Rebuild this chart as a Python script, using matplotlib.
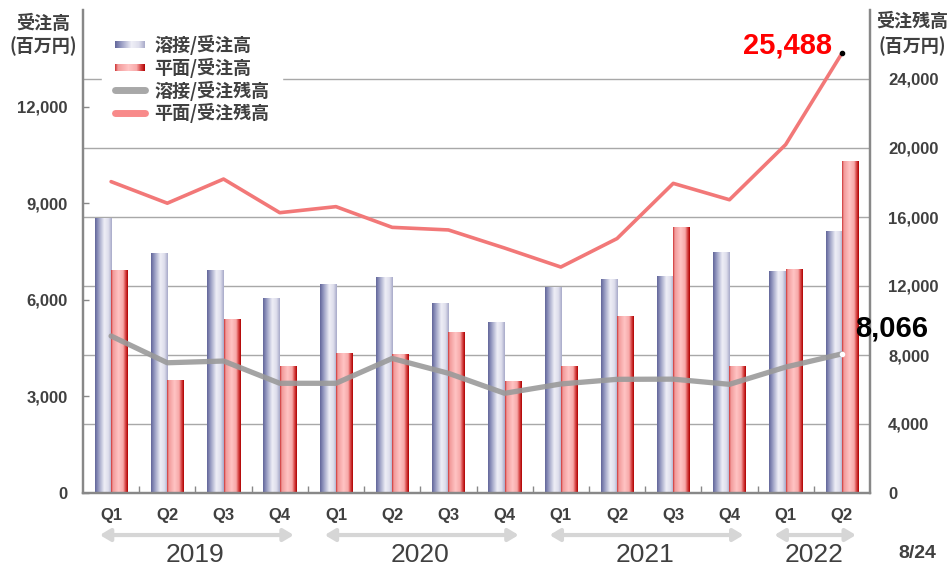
"""
Orders received / order backlog by quarter: welding vs flat (surface) business.
Bars on the left axis, backlog lines on the right axis.
"""

import matplotlib
matplotlib.use("Agg")
import numpy as np
import matplotlib.pyplot as plt
from matplotlib import font_manager
from matplotlib.colors import LinearSegmentedColormap
from matplotlib.legend_handler import HandlerBase
from matplotlib.lines import Line2D
from matplotlib.patches import Patch, Rectangle

# ---- data (百万円) ----
quarters = ["Q1", "Q2", "Q3", "Q4"] * 3 + ["Q1", "Q2"]
years = ["2019", "2020", "2021", "2022"]
year_counts = [4, 4, 4, 2]
weld_orders = [8550, 7460, 6930, 6060, 6490, 6710, 5900, 5310, 6410, 6650, 6740, 7470, 6890, 8140]
flat_orders = [6930, 3510, 5400, 3940, 4340, 4310, 5000, 3490, 3940, 5500, 8260, 3940, 6950, 10310]
weld_backlog = [9100, 7550, 7650, 6360, 6360, 7800, 6940, 5780, 6320, 6590, 6600, 6300, 7300, 8066]
flat_backlog = [18050, 16800, 18200, 16250, 16600, 15400, 15250, 14200, 13100, 14750, 17950, 17000, 20200, 25488]
left_ticks = [0, 3000, 6000, 9000, 12000]
right_ticks = [0, 4000, 8000, 12000, 16000, 20000, 24000]
L_MAX, R_MAX = 15000, 28000

names = set(font_manager.get_font_names())
NARROW = "Liberation Sans Narrow" if "Liberation Sans Narrow" in names else "Liberation Sans"
YEAR_SIZE = 23 if NARROW == "Liberation Sans Narrow" else 19
LAT = "Liberation Sans"
JP = ["Noto Sans CJK JP", "DejaVu Sans"]
TXT = "#404040"

blue_cmap = LinearSegmentedColormap.from_list(
    "weld", [(0, "#62669a"), (0.18, "#9094bd"), (0.55, "#eeeef6"), (0.8, "#dedeec"), (1, "#a8aac9")])
red_cmap = LinearSegmentedColormap.from_list(
    "flat", [(0, "#cc3333"), (0.1, "#f29a9a"), (0.45, "#ffc4c4"), (0.72, "#f7a9a9"),
             (0.86, "#d84848"), (1, "#b00000")])


class GradHandler(HandlerBase):
    def __init__(self, cmap):
        super().__init__()
        self.cmap = cmap

    def create_artists(self, legend, orig_handle, xdescent, ydescent, width, height, fontsize, trans):
        n = 30
        hh = height * 0.55
        y0 = -ydescent + (height - hh) / 2
        arts = []
        for k in range(n):
            arts.append(Rectangle((-xdescent + width * k / n, y0), width / n * 1.1, hh,
                                  facecolor=self.cmap((k + 0.5) / n), edgecolor="none",
                                  transform=trans))
        return arts


fig = plt.figure(figsize=(9.51, 5.70), dpi=100)
ax = fig.add_axes([83 / 951, 1 - 493 / 570, (870 - 83) / 951, (493 - 10) / 570])
ax2 = ax.twinx()

x = np.arange(len(quarters))
w = 0.29
grad = np.linspace(0, 1, 64).reshape(1, -1)

# gridlines at right-axis ticks, behind the bars
for v in right_ticks[1:]:
    ax.axhline(v * L_MAX / R_MAX, color="#a8a8a8", linewidth=1, zorder=1)

for vals, off, cmap in [(weld_orders, -w / 2, blue_cmap), (flat_orders, w / 2, red_cmap)]:
    bars = ax.bar(x + off, vals, width=w, facecolor="none", edgecolor="none", zorder=2)
    for b in bars:
        x0, y0 = b.get_x(), b.get_y()
        im = ax.imshow(grad, cmap=cmap, extent=(x0, x0 + b.get_width(), y0, y0 + b.get_height()),
                       aspect="auto", interpolation="bilinear", zorder=2)
        im.set_clip_path(b)

ax.set_xlim(-0.5, len(quarters) - 0.5)
ax.set_ylim(0, L_MAX)
ax2.set_ylim(0, R_MAX)

# backlog lines
ax2.plot(x, weld_backlog, color="#9a9a9a", linewidth=3.8, alpha=0.9,
         solid_joinstyle="round", solid_capstyle="round", zorder=3)
ax2.plot(x, flat_backlog, color="#f27878", linewidth=2.6,
         solid_joinstyle="round", solid_capstyle="round", zorder=3)
ax2.plot(x[-1], flat_backlog[-1], "o", color="black", markersize=3, zorder=4)
ax2.plot(x[-1], weld_backlog[-1], "o", color="white", markersize=3, zorder=4)

ax2.annotate(f"{flat_backlog[-1]:,}", (x[-1], flat_backlog[-1]), xytext=(-10, 8),
             textcoords="offset pixels", ha="right", va="center", color="#ff0000",
             fontsize=21, fontweight="bold", family=LAT, zorder=5)
ax2.annotate(f"{weld_backlog[-1]:,}", (x[-1], weld_backlog[-1]), xytext=(13, 25),
             textcoords="offset pixels", ha="left", va="center", color="black",
             fontsize=21, fontweight="bold", family=LAT, zorder=5, annotation_clip=False)

# axes styling
for a in (ax, ax2):
    a.spines["top"].set_visible(False)
    for s in ("left", "right", "bottom"):
        a.spines[s].set_color("#888888")
        a.spines[s].set_linewidth(1.6)

ax.set_yticks(left_ticks)
ax.set_yticklabels([f"{v:,}" for v in left_ticks], family=LAT, fontweight="bold",
                   fontsize=12, color=TXT)
ax.tick_params(axis="y", direction="in", length=4, width=1, color="#888888", pad=11)

ax2.set_yticks(right_ticks)
ax2.set_yticklabels([f"{v:,}" for v in right_ticks], family=LAT, fontweight="bold",
                    fontsize=12, color=TXT)
ax2.tick_params(axis="y", length=0, pad=13)

ax.set_xticks(x)
ax.set_xticklabels(quarters, family=LAT, fontweight="bold", fontsize=12, color=TXT)
ax.tick_params(axis="x", which="major", length=0, pad=11)
ax.set_xticks(x[:-1] + 0.5, minor=True)
ax.tick_params(axis="x", which="minor", direction="in", length=5, width=1, color="#888888")

# year arrows and labels
trans = ax.get_xaxis_transform()
start = 0
for yr, n in zip(years, year_counts):
    i0, i1 = start, start + n - 1
    ax.annotate("", xy=(i1 + 0.25, -0.087), xytext=(i0 - 0.2, -0.087), xycoords=trans,
                textcoords=trans, annotation_clip=False,
                arrowprops=dict(arrowstyle="<|-|>,head_length=0.5,head_width=0.3",
                                color="#d6d6d6", lw=3, mutation_scale=12, shrinkA=0, shrinkB=0))
    ax.text((i0 + i1) / 2, -0.128, yr, transform=trans, ha="center", va="center",
            family=NARROW, fontsize=YEAR_SIZE, color=TXT)
    start += n

fig.text(917 / 951, 1 - 553 / 570, "8/24", ha="center", va="center", family=NARROW,
         fontsize=14, fontweight="bold", color=TXT)

# axis titles
fig.text(43 / 951, 1 - 23 / 570, "受注高", ha="center", va="center", family=JP,
         fontsize=13, fontweight="bold", color=TXT)
fig.text(43 / 951, 1 - 46 / 570, "(百万円)", ha="center", va="center", family=JP,
         fontsize=13, fontweight="bold", color=TXT)
fig.text(912 / 951, 1 - 21 / 570, "受注残高", ha="center", va="center", family=JP,
         fontsize=13, fontweight="bold", color=TXT)
fig.text(912 / 951, 1 - 46 / 570, "(百万円)", ha="center", va="center", family=JP,
         fontsize=13, fontweight="bold", color=TXT)

# legend
p_weld = Patch(label="溶接/受注高")
p_flat = Patch(label="平面/受注高")
l_weld = Line2D([], [], color="#a8a8a8", linewidth=5, solid_capstyle="round", label="溶接/受注残高")
l_flat = Line2D([], [], color="#f88a8a", linewidth=5, solid_capstyle="round", label="平面/受注残高")
leg = ax2.legend(handles=[p_weld, p_flat, l_weld, l_flat],
                 handler_map={p_weld: GradHandler(blue_cmap), p_flat: GradHandler(red_cmap)},
                 loc="upper left", bbox_to_anchor=((102 - 83) / 787, (493 - 22) / 483),
                 borderaxespad=0, borderpad=0.7, handlelength=1.7, handletextpad=0.5,
                 labelspacing=0.15, frameon=True, fancybox=False, framealpha=1,
                 facecolor="white", edgecolor="white",
                 prop=dict(family=JP, weight="bold", size=13))
for t in leg.get_texts():
    t.set_color(TXT)

fig.savefig("out.png", dpi=100)
